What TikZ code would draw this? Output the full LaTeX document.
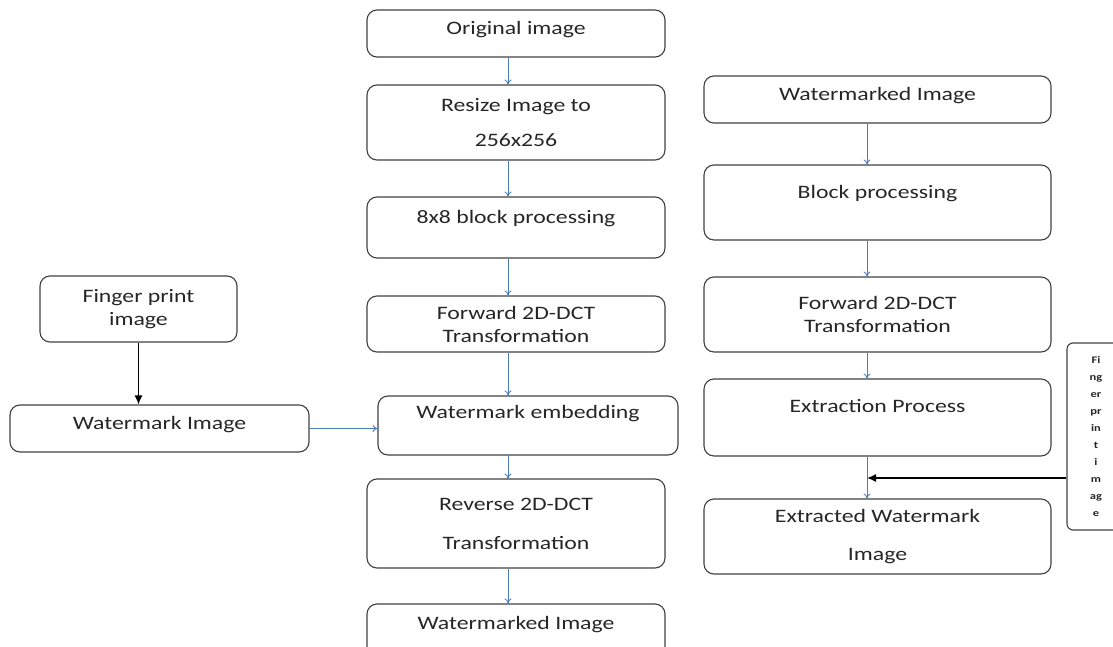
\documentclass[tikz,border=0pt]{standalone}
\usepackage{fontspec}
\setmainfont{Carlito}[FakeStretch=1.25]
\usetikzlibrary{arrows.meta}
\definecolor{flowblue}{RGB}{74,126,187}

\begin{document}
\begin{tikzpicture}[x=1pt,y=-1pt,
    box/.style={draw=black!75,line width=1.1pt,rounded corners=10pt,minimum width=298pt,
      align=center,inner sep=2pt,text=black!85,font=\fontsize{19}{23}\selectfont},
    lift/.style={text height=14pt,text depth=#1},
    flow/.style={flowblue,line width=0.9pt,-{To[length=5pt,width=7pt]}},
    feed/.style={black,line width=1.3pt,-{Latex[length=9pt,width=8pt]}}]
    \clip (0,0) rectangle (1113,647);
    \coordinate (axis) at (508,0);
    \coordinate (raxis) at (867,0);

    % embedding
    \node[box,minimum height=47pt,lift=12pt] (orig) at (516,33.5) {Original image};
    \node[box,minimum height=75pt] (resize) at (516,122.5) {Resize Image to\\[12pt]256x256};
    \node[box,minimum height=61pt,lift=22pt] (blk) at (516,227.5) {8x8 block processing};
    \node[box,minimum height=56pt] (fwd) at (516,324) {Forward 2D-DCT\\Transformation};
    \node[box,minimum width=300pt,minimum height=59pt,lift=28pt] (embed) at (528,425.5) {Watermark embedding};
    \node[box,minimum height=89pt] (rev) at (516,523.5) {Reverse 2D-DCT\\[16pt]Transformation};
    \node[box,minimum height=60pt,lift=23pt] (wmkd) at (516,634) {Watermarked Image};

    \node[box,minimum width=197pt,minimum height=66pt] (fp) at (138.5,309) {Finger print\\image};
    \node[box,minimum width=299pt,minimum height=47pt,lift=12pt] (wm) at (159.5,428.5) {Watermark Image};

    % extraction
    \node[box,minimum width=347pt,minimum height=47pt,lift=12pt] (rwm) at (877.5,99.5) {Watermarked Image};
    \node[box,minimum width=347pt,minimum height=75pt,lift=22pt] (rblk) at (877.5,202.5) {Block processing};
    \node[box,minimum width=347pt,minimum height=75pt] (rfwd) at (877.5,314.5) {Forward 2D-DCT\\Transformation};
    \node[box,minimum width=347pt,minimum height=77pt,lift=24pt] (rext) at (877.5,417.5) {Extraction Process};
    \node[box,minimum width=347pt,minimum height=75pt] (rout) at (877.5,536.5) {Extracted Watermark\\[15pt]Image};
    \node[box,minimum width=58pt,minimum height=187pt,rounded corners=6pt,
      font=\fontsize{10}{17}\selectfont\bfseries] (fp2) at (1096,436.5) {Fi\\ng\\er\\pr\\in\\t\\i\\m\\ag\\e};
    \coordinate (tap) at (867,478);

    \path[flow] (orig.south -| axis) edge (resize.north -| axis)
    (resize.south -| axis) edge (blk.north -| axis)
    (blk.south -| axis) edge (fwd.north -| axis)
    (fwd.south -| axis) edge (embed.north -| axis)
    (embed.south -| axis) edge (rev.north -| axis)
    (rev.south -| axis) edge (wmkd.north -| axis)
    (wm.east) edge (wm.east -| embed.west);
    \path[feed] (fp.south) edge (fp.south |- wm.north);

    \path[flow] (rwm.south -| raxis) edge (rblk.north -| raxis)
    (rblk.south -| raxis) edge (rfwd.north -| raxis)
    (rfwd.south -| raxis) edge (rext.north -| raxis)
    (rext.south -| raxis) edge (rout.north -| raxis);
    \path[feed] (fp2.west |- tap) edge (tap);
\end{tikzpicture}
\end{document}
